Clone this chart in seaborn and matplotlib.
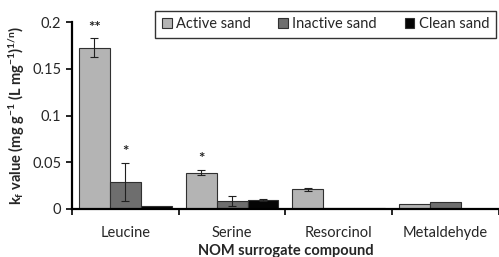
import numpy as np
import pandas as pd
import matplotlib
matplotlib.use('Agg')
import matplotlib.pyplot as plt
import seaborn as sns

# ---- data ----
compounds = ['Leucine', 'Serine', 'Resorcinol', 'Metaldehyde']
sands = ['Active sand', 'Inactive sand', 'Clean sand']
kf_active   = [0.1725, 0.039, 0.021, 0.0053]
kf_inactive = [0.029, 0.0087, 0.0012, 0.0078]
kf_clean    = [0.003, 0.0095, 0.0006, 0.0]
err_active   = [0.010, 0.0025, 0.0015, 0.0]
err_inactive = [0.020, 0.0055, 0.0, 0.0]
err_clean    = [0.0, 0.0015, 0.0, 0.0]
stars = {('Leucine', 'Active sand'): '**',
         ('Leucine', 'Inactive sand'): '*',
         ('Serine', 'Active sand'): '*'}
yticks = [0, 0.05, 0.1, 0.15, 0.2]
ytick_labels = ['0', '0.05', '0.1', '0.15', '0.2']

df = pd.DataFrame({
    'compound': compounds * 3,
    'sand': np.repeat(sands, len(compounds)),
    'kf': kf_active + kf_inactive + kf_clean,
    'err': err_active + err_inactive + err_clean,
})

sns.set_style('white')
plt.rcParams['font.family'] = ['Lato', 'DejaVu Sans']
plt.rcParams['mathtext.fontset'] = 'custom'
plt.rcParams['mathtext.rm'] = 'Lato'
plt.rcParams['mathtext.bf'] = 'Lato:bold'
plt.rcParams['mathtext.it'] = 'Lato:italic'

COLORS = ['#b4b4b4', '#6e6e6e', '#050505']

fig = plt.figure(figsize=(4.99, 2.57), dpi=100)
ax = fig.add_axes([0.144, 0.187, 0.856, 0.727])

sns.barplot(data=df, x='compound', y='kf', hue='sand', order=compounds,
            hue_order=sands, palette=COLORS, width=0.87, errorbar=None,
            edgecolor='#303030', linewidth=0.8, ax=ax, legend=True)

# error bars + significance stars, placed on the drawn bars
for cont, sand in zip(ax.containers, sands):
    sub = df[df['sand'] == sand].set_index('compound').loc[compounds]
    for bar, comp in zip(cont, compounds):
        xc = bar.get_x() + bar.get_width() / 2
        val = sub.loc[comp, 'kf']
        e = sub.loc[comp, 'err']
        if e > 0:
            ax.errorbar(xc, val, yerr=e, fmt='none', ecolor='#202020',
                        elinewidth=0.8, capsize=3, capthick=0.8)
        if (comp, sand) in stars:
            ax.text(xc, val + e + 0.004, stars[(comp, sand)], ha='center',
                    va='bottom', fontsize=11, fontweight='bold', color='#202020')

ax.set_ylim(0, 0.2)
ax.set_xlim(-0.5, 3.5)
ax.set_yticks(yticks)
ax.set_yticklabels(ytick_labels)
ax.set_xticks(np.arange(-0.5, 4, 1), minor=True)
ax.tick_params(axis='x', which='major', length=0, pad=12, labelsize=10.5)
ax.tick_params(axis='x', which='minor', length=4, width=1.2, direction='out',
               bottom=True, color='black')
ax.tick_params(axis='y', length=4, width=1.2, direction='out', left=True,
               labelsize=10.5, color='black')
for s in ['top', 'right']:
    ax.spines[s].set_visible(False)
for s in ['left', 'bottom']:
    ax.spines[s].set_linewidth(1.6)
    ax.spines[s].set_color('black')

ax.set_xlabel('NOM surrogate compound', fontsize=10.5, fontweight='bold', labelpad=3)
ax.set_ylabel(r'$\mathbf{k_f}$ value (mg g$^{\mathbf{-1}}$ (L mg$^{\mathbf{-1}}$)$^{\mathbf{1/n}}$)',
              fontsize=10.5, fontweight='bold', labelpad=4)

handles, labels = ax.get_legend_handles_labels()
for h in handles:
    h.set_edgecolor('#303030')
ax.legend(handles, labels, ncol=3, loc='upper right',
          bbox_to_anchor=(0.992, 1.06), frameon=True, fancybox=False,
          edgecolor='black', fontsize=10.5, handlelength=0.65, handleheight=0.65,
          handletextpad=0.3, columnspacing=1.9, borderpad=0.45,
          borderaxespad=0.0)

fig.savefig('out.png', dpi=100, facecolor='white')
